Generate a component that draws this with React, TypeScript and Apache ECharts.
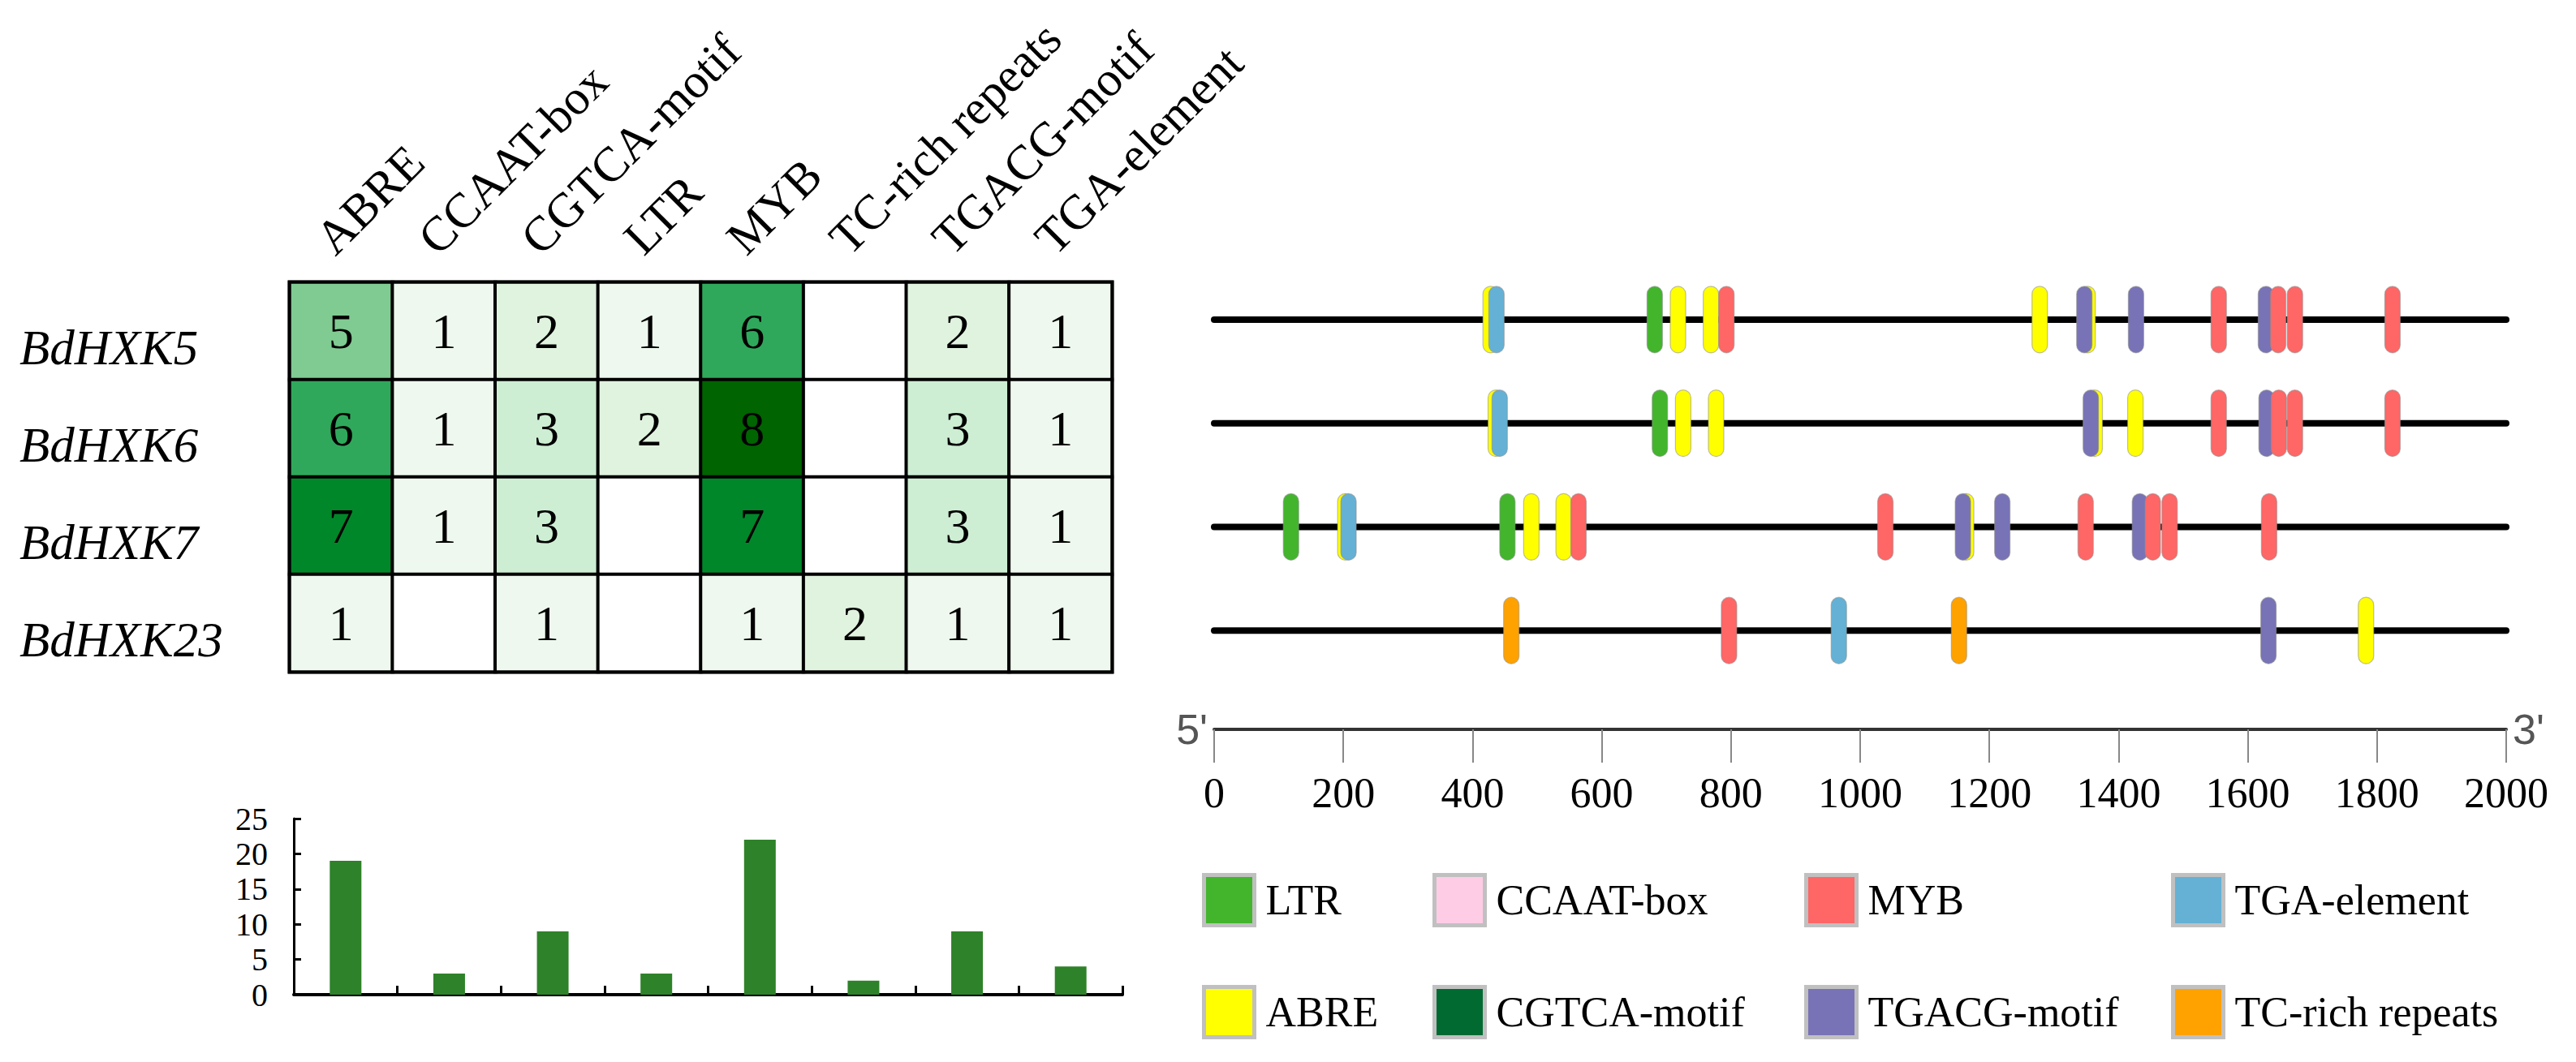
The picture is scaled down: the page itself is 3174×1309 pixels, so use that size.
import React, { useEffect, useRef } from 'react';
import * as echarts from 'echarts';

// ---------- data ----------
const genes = ['BdHXK5', 'BdHXK6', 'BdHXK7', 'BdHXK23'];
const elements = ['ABRE', 'CCAAT-box', 'CGTCA-motif', 'LTR', 'MYB', 'TC-rich repeats', 'TGACG-motif', 'TGA-element'];
const countsBdHXK5 = [5, 1, 2, 1, 6, 0, 2, 1];
const countsBdHXK6 = [6, 1, 3, 2, 8, 0, 3, 1];
const countsBdHXK7 = [7, 1, 3, 0, 7, 0, 3, 1];
const countsBdHXK23 = [1, 0, 1, 0, 1, 2, 1, 1];
const totals = [19, 3, 9, 3, 22, 2, 9, 4];
const seqLength = 2000;

// motif sites: [position (bp), gene index]
const abreSites = [[428, 0], [718, 0], [769, 0], [1278, 0], [1352, 0], [436, 1], [726, 1], [777, 1], [1363, 1], [1426, 1], [203, 2], [491, 2], [541, 2], [1164, 2], [1783, 3]];
const tgacgSites = [[1347, 0], [1427, 0], [1628, 0], [1357, 1], [1629, 1], [1159, 2], [1220, 2], [1433, 2], [1632, 3]];
const tgaSites = [[437, 0], [442, 1], [208, 2], [967, 3]];
const ltrSites = [[682, 0], [690, 1], [119, 2], [454, 2]];
const tcRichSites = [[460, 3], [1153, 3]];
const mybSites = [[793, 0], [1555, 0], [1647, 0], [1673, 0], [1824, 0], [1555, 1], [1648, 1], [1673, 1], [1824, 1], [564, 2], [1039, 2], [1349, 2], [1453, 2], [1479, 2], [1633, 2], [797, 3]];
const ccaatSites: number[][] = [];
const cgtcaSites: number[][] = [];

const motifLayers = [
  { name: 'ABRE', sites: abreSites },
  { name: 'TGACG-motif', sites: tgacgSites },
  { name: 'TGA-element', sites: tgaSites },
  { name: 'LTR', sites: ltrSites },
  { name: 'TC-rich repeats', sites: tcRichSites },
  { name: 'MYB', sites: mybSites },
  { name: 'CCAAT-box', sites: ccaatSites },
  { name: 'CGTCA-motif', sites: cgtcaSites },
];

const legendColumns = [
  ['LTR', 'ABRE'],
  ['CCAAT-box', 'CGTCA-motif'],
  ['MYB', 'TGACG-motif'],
  ['TGA-element', 'TC-rich repeats'],
];

// ---------- styles ----------
const motifColors: Record<string, string> = {
  LTR: '#42b52d',
  'CCAAT-box': '#ffcce6',
  MYB: '#ff6666',
  'TGA-element': '#64b1d5',
  ABRE: '#ffff00',
  'CGTCA-motif': '#006a31',
  'TGACG-motif': '#7873b6',
  'TC-rich repeats': '#ffa200',
};
const heatPieces = [
  { value: 0, color: '#ffffff' },
  { value: 1, color: '#eef8ee' },
  { value: 2, color: '#e0f3df' },
  { value: 3, color: '#cdeed3' },
  { value: 4, color: '#a8dfb4' },
  { value: 5, color: '#80cb92' },
  { value: 6, color: '#2fa85b' },
  { value: 7, color: '#008729' },
  { value: 8, color: '#006400' },
];
const legendLefts = [1481, 1765, 2223, 2675];
const SERIF = '"Liberation Serif", "Times New Roman", serif';
const SANS = '"Liberation Sans Narrow", "Liberation Sans", Arial, sans-serif';

function buildOption() {
  const heatRows = [countsBdHXK5, countsBdHXK6, countsBdHXK7, countsBdHXK23];
  const heatData = heatRows.flatMap((row, r) => row.map((v, c) => [c, r, v]));

  const grids = [
    { left: 357, top: 348, width: 1013, height: 480, show: true, borderColor: '#000', borderWidth: 5 },
    { left: 362, top: 1009, width: 1021, height: 217 },
    { left: 1496, top: 330, width: 1592, height: 511 },
    { left: 1496, top: 330, width: 1592, height: 511 },
  ];

  const xAxes: any[] = [
    {
      gridIndex: 0, type: 'category', data: elements, position: 'top',
      axisLine: { show: false }, axisTick: { show: false }, splitLine: { show: false },
      axisLabel: {
        interval: 0, rotate: -45, margin: 24, align: 'left', verticalAlign: 'bottom',
        fontSize: 60, fontFamily: SERIF, color: '#000',
      },
    },
    {
      gridIndex: 1, type: 'category', data: elements,
      axisLine: { show: true, lineStyle: { color: '#000', width: 4 } },
      axisTick: { show: true, inside: true, length: 11, lineStyle: { color: '#000', width: 3 } },
      axisLabel: { show: false }, splitLine: { show: false },
    },
    {
      gridIndex: 2, type: 'value', min: 0, max: seqLength, interval: 200, position: 'bottom', offset: 58,
      axisLine: { show: true, onZero: false, lineStyle: { color: '#333', width: 4 } },
      axisTick: { show: true, length: 41, lineStyle: { color: '#888', width: 2 } },
      axisLabel: { margin: 52, fontSize: 52, fontFamily: SERIF, color: '#000', formatter: (v: number) => String(v) },
      splitLine: { show: false },
      name: "3'", nameLocation: 'end', nameGap: 8,
      nameTextStyle: { fontFamily: SANS, fontSize: 52, color: '#555', padding: [0, 0, 24, 0] },
    },
    {
      gridIndex: 3, type: 'value', min: 0, max: seqLength, position: 'bottom', offset: 58,
      axisLine: { show: false, onZero: false }, axisTick: { show: false }, axisLabel: { show: false }, splitLine: { show: false },
      name: "5'", nameLocation: 'start', nameGap: 8,
      nameTextStyle: { fontFamily: SANS, fontSize: 52, color: '#555', padding: [0, 0, 24, 0] },
    },
  ];

  const yAxes: any[] = [
    {
      gridIndex: 0, type: 'category', data: genes, inverse: true,
      axisLine: { show: false }, axisTick: { show: false }, splitLine: { show: false },
      axisLabel: {
        margin: 333, align: 'left', verticalAlign: 'top', lineHeight: 40,
        fontSize: 61, fontStyle: 'italic', fontFamily: SERIF, color: '#000',
      },
    },
    {
      gridIndex: 1, type: 'value', min: 0, max: 25, interval: 5,
      axisLine: { show: true, lineStyle: { color: '#000', width: 3 } },
      axisTick: { show: true, inside: true, length: 9, lineStyle: { color: '#000', width: 3 } },
      axisLabel: { margin: 32, fontSize: 40, fontFamily: SERIF, color: '#000' },
      splitLine: { show: false },
    },
    {
      gridIndex: 2, type: 'category', data: genes, inverse: true, show: false,
    },
    {
      gridIndex: 3, type: 'category', data: genes, inverse: true, show: false,
    },
  ];

  const series: any[] = [
    {
      type: 'heatmap', xAxisIndex: 0, yAxisIndex: 0, data: heatData,
      itemStyle: { borderColor: '#000', borderWidth: 4 },
      label: {
        show: true, fontSize: 62, fontFamily: SERIF, color: '#000',
        formatter: (p: any) => (p.value[2] === 0 ? '' : String(p.value[2])),
      },
      emphasis: { disabled: true },
    },
    {
      type: 'bar', xAxisIndex: 1, yAxisIndex: 1, data: totals, barWidth: 39,
      itemStyle: { color: '#2e8229' },
      emphasis: { disabled: true },
    },
    {
      type: 'custom', name: 'backbone', xAxisIndex: 2, yAxisIndex: 2,
      data: genes.map((_, i) => [0, seqLength, i]),
      encode: { x: [0, 1], y: 2 },
      renderItem: (_p: any, api: any) => {
        const s = api.coord([api.value(0), api.value(2)]);
        const e = api.coord([api.value(1), api.value(2)]);
        return {
          type: 'line',
          shape: { x1: s[0], y1: s[1], x2: e[0], y2: e[1] },
          style: { stroke: '#000', lineWidth: 8, lineCap: 'round' },
        };
      },
      silent: true,
    },
    ...motifLayers.map((m) => ({
      type: 'custom', name: m.name, xAxisIndex: 2, yAxisIndex: 2,
      data: m.sites, encode: { x: 0, y: 1 },
      itemStyle: { color: motifColors[m.name] },
      renderItem: (_p: any, api: any) => {
        const c = api.coord([api.value(0), api.value(1)]);
        return {
          type: 'rect',
          shape: { x: c[0] - 9.5, y: c[1] - 41, width: 19, height: 82, r: 9.5 },
          style: { fill: api.visual('color'), stroke: 'rgba(140,140,140,0.55)', lineWidth: 1.2 },
        };
      },
      silent: true,
    })),
  ];

  const legends = legendColumns.map((names, k) => ({
    orient: 'vertical', left: legendLefts[k], top: 1076, padding: 0,
    itemWidth: 62, itemHeight: 62, itemGap: 71, selectedMode: false,
    textStyle: { fontSize: 52, fontFamily: SERIF, color: '#000', padding: [0, 0, 0, 9] },
    data: names.map((n) => ({
      name: n, icon: 'rect',
      itemStyle: { color: motifColors[n], borderColor: '#c0c0c0', borderWidth: 5 },
    })),
  }));

  return {
    animation: false,
    backgroundColor: '#fff',
    grid: grids,
    xAxis: xAxes,
    yAxis: yAxes,
    visualMap: {
      type: 'piecewise', show: false, seriesIndex: 0, dimension: 2, pieces: heatPieces,
    },
    legend: legends,
    series,
  };
}

export default function App() {
  const ref = useRef<HTMLDivElement>(null);
  useEffect(() => {
    const chart = echarts.init(ref.current!, null, { renderer: 'svg' });
    chart.setOption(buildOption() as any);
    return () => chart.dispose();
  }, []);
  return (
    <div
      ref={ref}
      style={{ position: 'absolute', left: 0, top: 0, width: 3174, height: 1309, background: '#fff' }}
    />
  );
}
